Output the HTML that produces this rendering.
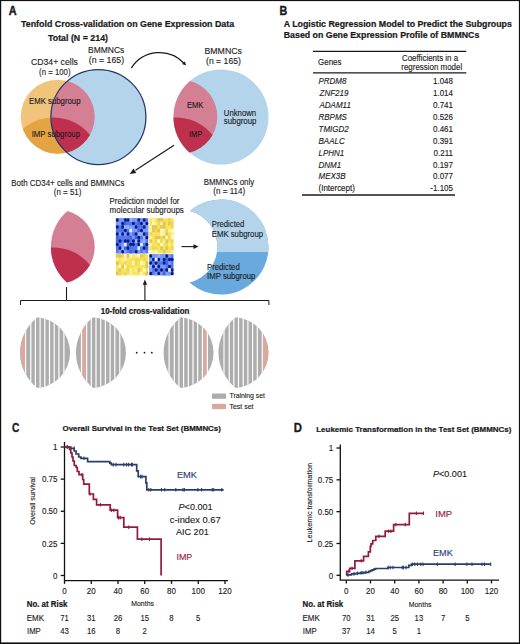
<!DOCTYPE html>
<html><head><meta charset="utf-8"><style>
html,body{margin:0;padding:0;background:#fff;overflow:hidden;}
svg{display:block;font-family:"Liberation Sans",sans-serif;}
</style></head><body>
<svg width="520" height="644" viewBox="0 0 520 644" font-family="Liberation Sans, sans-serif">
<defs>
<clipPath id="cA"><circle cx="57.7" cy="116.7" r="37.0"/></clipPath>
<clipPath id="cD"><circle cx="53.5" cy="164.2" r="46.7"/></clipPath>
<clipPath id="cD2"><circle cx="176.1" cy="164.2" r="46.7"/></clipPath>
<clipPath id="cD3"><circle cx="53.5" cy="294.2" r="46.7"/></clipPath>
<clipPath id="cLens"><path d="M67.41,81.00 A47.5,47.5 0 0 0 66.89,152.54 A37.0,37.0 0 0 0 67.41,81.00Z"/></clipPath>
</defs>
<rect x="0" y="0" width="520" height="644" fill="#fff"/>

<text transform="translate(8.80,15.20) scale(0.8889,1.020)" font-size="12.3" font-weight="bold" stroke="#1a1a1a" stroke-width="0.45" fill="#1a1a1a">A</text>
<text transform="translate(21.00,27.00) scale(0.9980,1.000)" font-size="8.9" font-weight="bold" stroke="#1a1a1a" stroke-width="0.22" fill="#1a1a1a">Tenfold Cross-validation on Gene Expression Data</text>
<text transform="translate(48.00,40.50) scale(0.9952,1.000)" font-size="8.9" font-weight="bold" stroke="#1a1a1a" stroke-width="0.22" fill="#1a1a1a">Total (N = 214)</text>
<circle cx="57.7" cy="116.7" r="37.0" fill="#f1c47c"/>
<g clip-path="url(#cA)"><circle cx="53.5" cy="164.2" r="46.7" fill="#e4a444"/></g>
<circle cx="98.4" cy="117.0" r="47.5" fill="#b4d4ec"/>
<path d="M67.41,81.00 A47.5,47.5 0 0 0 66.89,152.54 A37.0,37.0 0 0 0 67.41,81.00Z" fill="#d47f94"/>
<g clip-path="url(#cD)"><path d="M67.41,81.00 A47.5,47.5 0 0 0 66.89,152.54 A37.0,37.0 0 0 0 67.41,81.00Z" fill="#bf304f"/></g>
<circle cx="98.4" cy="117.0" r="47.5" fill="none" stroke="#1f3966" stroke-width="1.25"/>
<text transform="translate(88.00,53.00) scale(0.9784,1.000)" font-size="8.7" fill="#1a1a1a" stroke="#1a1a1a" stroke-width="0.12">BMMNCs</text>
<text transform="translate(88.75,63.30) scale(1.0108,1.000)" font-size="8.7" fill="#1a1a1a" stroke="#1a1a1a" stroke-width="0.12">(n = 165)</text>
<text transform="translate(31.00,65.00) scale(0.9972,1.000)" font-size="8.7" fill="#1a1a1a" stroke="#1a1a1a" stroke-width="0.12">CD34+ cells</text>
<text transform="translate(39.10,74.60) scale(0.8969,1.000)" font-size="8.7" fill="#1a1a1a" stroke="#1a1a1a" stroke-width="0.12">(n = 100)</text>
<text transform="translate(29.00,103.75) scale(0.9505,1.000)" font-size="8.2" fill="#1a1a1a" stroke="#1a1a1a" stroke-width="0.12">EMK subgroup</text>
<text transform="translate(31.70,137.20) scale(0.9491,1.000)" font-size="8.2" fill="#1a1a1a" stroke="#1a1a1a" stroke-width="0.12">IMP subgroup</text>
<path d="M131.3,68.1 A33.44,33.44 0 0 1 184.2,63.5" fill="none" stroke="#1a1a1a" stroke-width="1.25"/>
<path d="M186.1,65.6 L184.8,61.4 L182.1,63.9 Z" fill="#1a1a1a"/>
<circle cx="221.0" cy="117.0" r="47.5" fill="#b4d4ec"/>
<path d="M190.01,81.00 A47.5,47.5 0 0 0 189.49,152.54 A37.0,37.0 0 0 0 190.01,81.00Z" fill="#d47f94"/>
<g clip-path="url(#cD2)"><path d="M190.01,81.00 A47.5,47.5 0 0 0 189.49,152.54 A37.0,37.0 0 0 0 190.01,81.00Z" fill="#bf304f"/></g>
<text transform="translate(204.50,53.75) scale(1.0049,1.000)" font-size="8.7" fill="#1a1a1a" stroke="#1a1a1a" stroke-width="0.12">BMMNCs</text>
<text transform="translate(206.00,64.00) scale(0.9966,1.000)" font-size="8.7" fill="#1a1a1a" stroke="#1a1a1a" stroke-width="0.12">(n = 165)</text>
<text transform="translate(186.90,107.60) scale(0.9190,1.000)" font-size="8.2" fill="#1a1a1a" stroke="#1a1a1a" stroke-width="0.12">EMK</text>
<text transform="translate(189.00,137.00) scale(0.8943,1.000)" font-size="8.2" fill="#1a1a1a" stroke="#1a1a1a" stroke-width="0.12">IMP</text>
<text transform="translate(223.80,115.90) scale(0.9456,1.000)" font-size="8.2" fill="#1a1a1a" stroke="#1a1a1a" stroke-width="0.12">Unknown</text>
<text transform="translate(223.80,124.40) scale(0.9541,1.000)" font-size="8.2" fill="#1a1a1a" stroke="#1a1a1a" stroke-width="0.12">subgroup</text>
<line x1="174" y1="145.2" x2="135.5" y2="170.3" stroke="#1a1a1a" stroke-width="1.2"/>
<path d="M129.8,174 L136.3,172.9 L133.4,168.4 Z" fill="#1a1a1a"/>
<text transform="translate(11.25,185.50) scale(0.9689,1.000)" font-size="8.2" fill="#1a1a1a" stroke="#1a1a1a" stroke-width="0.12">Both CD34+ cells and BMMNCs</text>
<text transform="translate(53.75,195.00) scale(0.9750,1.000)" font-size="8.2" fill="#1a1a1a" stroke="#1a1a1a" stroke-width="0.12">(n = 51)</text>
<path d="M67.41,211.00 A47.5,47.5 0 0 0 66.89,282.54 A37.0,37.0 0 0 0 67.41,211.00Z" fill="#d47f94"/>
<g clip-path="url(#cD3)"><path d="M67.41,211.00 A47.5,47.5 0 0 0 66.89,282.54 A37.0,37.0 0 0 0 67.41,211.00Z" fill="#bf304f"/></g>
<text transform="translate(109.60,203.80) scale(0.9605,1.000)" font-size="8.2" fill="#1a1a1a" stroke="#1a1a1a" stroke-width="0.12">Prediction model for</text>
<text transform="translate(109.60,212.70) scale(0.9762,1.000)" font-size="8.2" fill="#1a1a1a" stroke="#1a1a1a" stroke-width="0.12">molecular subgroups</text>
<rect x="115.9" y="218.2" width="32.30" height="35.20" fill="#5676ee"/><rect x="118.59" y="218.20" width="2.74" height="3.57" fill="#7d9bf8"/><rect x="121.28" y="218.20" width="2.74" height="3.57" fill="#7d9bf8"/><rect x="129.36" y="218.20" width="2.74" height="3.57" fill="#98b4fc"/><rect x="132.05" y="218.20" width="2.74" height="3.57" fill="#7d9bf8"/><rect x="134.74" y="218.20" width="2.74" height="3.57" fill="#7d9bf8"/><rect x="140.12" y="218.20" width="2.74" height="3.57" fill="#7d9bf8"/><rect x="115.90" y="221.72" width="2.74" height="3.57" fill="#7d9bf8"/><rect x="118.59" y="221.72" width="2.74" height="3.57" fill="#7d9bf8"/><rect x="123.97" y="221.72" width="2.74" height="3.57" fill="#4464e2"/><rect x="137.43" y="221.72" width="2.74" height="3.57" fill="#4464e2"/><rect x="142.82" y="221.72" width="2.74" height="3.57" fill="#7d9bf8"/><rect x="123.97" y="225.24" width="2.74" height="3.57" fill="#98b4fc"/><rect x="126.67" y="225.24" width="2.74" height="3.57" fill="#98b4fc"/><rect x="129.36" y="225.24" width="2.74" height="3.57" fill="#7d9bf8"/><rect x="132.05" y="225.24" width="2.74" height="3.57" fill="#7d9bf8"/><rect x="145.51" y="225.24" width="2.74" height="3.57" fill="#7d9bf8"/><rect x="132.05" y="228.76" width="2.74" height="3.57" fill="#7d9bf8"/><rect x="134.74" y="228.76" width="2.74" height="3.57" fill="#7d9bf8"/><rect x="137.43" y="228.76" width="2.74" height="3.57" fill="#4464e2"/><rect x="142.82" y="228.76" width="2.74" height="3.57" fill="#7d9bf8"/><rect x="145.51" y="228.76" width="2.74" height="3.57" fill="#7d9bf8"/><rect x="118.59" y="232.28" width="2.74" height="3.57" fill="#7d9bf8"/><rect x="123.97" y="232.28" width="2.74" height="3.57" fill="#7d9bf8"/><rect x="129.36" y="232.28" width="2.74" height="3.57" fill="#7d9bf8"/><rect x="137.43" y="232.28" width="2.74" height="3.57" fill="#98b4fc"/><rect x="140.12" y="232.28" width="2.74" height="3.57" fill="#98b4fc"/><rect x="145.51" y="232.28" width="2.74" height="3.57" fill="#4464e2"/><rect x="115.90" y="235.80" width="2.74" height="3.57" fill="#4464e2"/><rect x="129.36" y="235.80" width="2.74" height="3.57" fill="#4464e2"/><rect x="132.05" y="235.80" width="2.74" height="3.57" fill="#7d9bf8"/><rect x="134.74" y="235.80" width="2.74" height="3.57" fill="#4464e2"/><rect x="142.82" y="235.80" width="2.74" height="3.57" fill="#98b4fc"/><rect x="115.90" y="239.32" width="2.74" height="3.57" fill="#4464e2"/><rect x="134.74" y="239.32" width="2.74" height="3.57" fill="#98b4fc"/><rect x="140.12" y="239.32" width="2.74" height="3.57" fill="#7d9bf8"/><rect x="142.82" y="239.32" width="2.74" height="3.57" fill="#98b4fc"/><rect x="121.28" y="242.84" width="2.74" height="3.57" fill="#7d9bf8"/><rect x="126.67" y="242.84" width="2.74" height="3.57" fill="#4464e2"/><rect x="121.28" y="246.36" width="2.74" height="3.57" fill="#98b4fc"/><rect x="123.97" y="246.36" width="2.74" height="3.57" fill="#4464e2"/><rect x="145.51" y="246.36" width="2.74" height="3.57" fill="#4464e2"/><rect x="118.59" y="249.88" width="2.74" height="3.57" fill="#7d9bf8"/><rect x="123.97" y="249.88" width="2.74" height="3.57" fill="#7d9bf8"/><rect x="129.36" y="249.88" width="2.74" height="3.57" fill="#4464e2"/><rect x="137.43" y="249.88" width="2.74" height="3.57" fill="#7d9bf8"/><rect x="142.82" y="249.88" width="2.74" height="3.57" fill="#7d9bf8"/><ellipse cx="117.25" cy="219.96" rx="1.48" ry="1.76" fill="#0a1c80"/><ellipse cx="125.32" cy="219.96" rx="1.48" ry="1.76" fill="#0a1c80"/><ellipse cx="128.01" cy="219.96" rx="1.48" ry="1.76" fill="#0a1c80"/><ellipse cx="138.78" cy="219.96" rx="1.48" ry="1.76" fill="#0a1c80"/><ellipse cx="144.16" cy="219.96" rx="1.48" ry="1.76" fill="#0a1c80"/><ellipse cx="122.63" cy="223.48" rx="1.48" ry="1.76" fill="#0a1c80"/><ellipse cx="133.40" cy="223.48" rx="1.48" ry="1.76" fill="#0a1c80"/><ellipse cx="141.47" cy="223.48" rx="1.48" ry="1.76" fill="#0a1c80"/><ellipse cx="146.85" cy="223.48" rx="1.48" ry="1.76" fill="#0a1c80"/><ellipse cx="117.25" cy="227.00" rx="1.48" ry="1.76" fill="#0a1c80"/><ellipse cx="122.63" cy="227.00" rx="1.48" ry="1.76" fill="#0a1c80"/><ellipse cx="136.09" cy="227.00" rx="1.48" ry="1.76" fill="#0a1c80"/><ellipse cx="144.16" cy="227.00" rx="1.48" ry="1.76" fill="#0a1c80"/><ellipse cx="125.32" cy="230.52" rx="1.48" ry="1.76" fill="#0a1c80"/><ellipse cx="141.47" cy="230.52" rx="1.48" ry="1.76" fill="#0a1c80"/><ellipse cx="117.25" cy="234.04" rx="1.48" ry="1.76" fill="#0a1c80"/><ellipse cx="122.63" cy="234.04" rx="1.48" ry="1.76" fill="#0a1c80"/><ellipse cx="128.01" cy="234.04" rx="1.48" ry="1.76" fill="#0a1c80"/><ellipse cx="136.09" cy="234.04" rx="1.48" ry="1.76" fill="#0a1c80"/><ellipse cx="144.16" cy="234.04" rx="1.48" ry="1.76" fill="#0a1c80"/><ellipse cx="138.78" cy="237.56" rx="1.48" ry="1.76" fill="#0a1c80"/><ellipse cx="146.85" cy="237.56" rx="1.48" ry="1.76" fill="#0a1c80"/><ellipse cx="119.94" cy="241.08" rx="1.48" ry="1.76" fill="#0a1c80"/><ellipse cx="125.32" cy="241.08" rx="1.48" ry="1.76" fill="#0a1c80"/><ellipse cx="128.01" cy="241.08" rx="1.48" ry="1.76" fill="#0a1c80"/><ellipse cx="133.40" cy="241.08" rx="1.48" ry="1.76" fill="#0a1c80"/><ellipse cx="138.78" cy="241.08" rx="1.48" ry="1.76" fill="#0a1c80"/><ellipse cx="117.25" cy="244.60" rx="1.48" ry="1.76" fill="#0a1c80"/><ellipse cx="130.70" cy="244.60" rx="1.48" ry="1.76" fill="#0a1c80"/><ellipse cx="133.40" cy="244.60" rx="1.48" ry="1.76" fill="#0a1c80"/><ellipse cx="138.78" cy="244.60" rx="1.48" ry="1.76" fill="#0a1c80"/><ellipse cx="146.85" cy="244.60" rx="1.48" ry="1.76" fill="#0a1c80"/><ellipse cx="119.94" cy="248.12" rx="1.48" ry="1.76" fill="#0a1c80"/><ellipse cx="128.01" cy="248.12" rx="1.48" ry="1.76" fill="#0a1c80"/><ellipse cx="144.16" cy="248.12" rx="1.48" ry="1.76" fill="#0a1c80"/><ellipse cx="122.63" cy="251.64" rx="1.48" ry="1.76" fill="#0a1c80"/><ellipse cx="136.09" cy="251.64" rx="1.48" ry="1.76" fill="#0a1c80"/><rect x="129.36" y="228.76" width="2.69" height="3.52" fill="#e6f2ff"/><rect x="123.97" y="242.84" width="2.69" height="3.52" fill="#e6f2ff"/><rect x="140.12" y="242.84" width="2.69" height="3.52" fill="#e6f2ff"/><rect x="137.43" y="246.36" width="2.69" height="3.52" fill="#e6f2ff"/>
<rect x="149.4" y="218.2" width="24.10" height="35.20" fill="#f7e35e"/><rect x="152.08" y="218.20" width="2.73" height="3.57" fill="#fbf09a"/><rect x="157.43" y="218.20" width="2.73" height="3.57" fill="#e2c655"/><rect x="160.11" y="218.20" width="2.73" height="3.57" fill="#e2c655"/><rect x="168.14" y="218.20" width="2.73" height="3.57" fill="#f2d74e"/><rect x="152.08" y="221.72" width="2.73" height="3.57" fill="#fdf8c4"/><rect x="154.76" y="221.72" width="2.73" height="3.57" fill="#fbf09a"/><rect x="157.43" y="221.72" width="2.73" height="3.57" fill="#f2d74e"/><rect x="160.11" y="221.72" width="2.73" height="3.57" fill="#fbf09a"/><rect x="162.79" y="221.72" width="2.73" height="3.57" fill="#e2c655"/><rect x="168.14" y="221.72" width="2.73" height="3.57" fill="#e2c655"/><rect x="170.82" y="221.72" width="2.73" height="3.57" fill="#f2d74e"/><rect x="149.40" y="225.24" width="2.73" height="3.57" fill="#fbf09a"/><rect x="152.08" y="225.24" width="2.73" height="3.57" fill="#e2c655"/><rect x="154.76" y="225.24" width="2.73" height="3.57" fill="#e2c655"/><rect x="160.11" y="225.24" width="2.73" height="3.57" fill="#e2c655"/><rect x="162.79" y="225.24" width="2.73" height="3.57" fill="#e2c655"/><rect x="170.82" y="225.24" width="2.73" height="3.57" fill="#f2d74e"/><rect x="149.40" y="228.76" width="2.73" height="3.57" fill="#fbf09a"/><rect x="152.08" y="228.76" width="2.73" height="3.57" fill="#e2c655"/><rect x="154.76" y="228.76" width="2.73" height="3.57" fill="#f2d74e"/><rect x="157.43" y="228.76" width="2.73" height="3.57" fill="#e2c655"/><rect x="160.11" y="228.76" width="2.73" height="3.57" fill="#fdf8c4"/><rect x="162.79" y="228.76" width="2.73" height="3.57" fill="#fbf09a"/><rect x="165.47" y="228.76" width="2.73" height="3.57" fill="#f2d74e"/><rect x="168.14" y="228.76" width="2.73" height="3.57" fill="#fbf09a"/><rect x="170.82" y="228.76" width="2.73" height="3.57" fill="#fdf8c4"/><rect x="149.40" y="232.28" width="2.73" height="3.57" fill="#f2d74e"/><rect x="160.11" y="232.28" width="2.73" height="3.57" fill="#fdf8c4"/><rect x="162.79" y="232.28" width="2.73" height="3.57" fill="#fbf09a"/><rect x="165.47" y="232.28" width="2.73" height="3.57" fill="#e2c655"/><rect x="170.82" y="232.28" width="2.73" height="3.57" fill="#fbf09a"/><rect x="149.40" y="235.80" width="2.73" height="3.57" fill="#fbf09a"/><rect x="154.76" y="235.80" width="2.73" height="3.57" fill="#e2c655"/><rect x="157.43" y="235.80" width="2.73" height="3.57" fill="#e2c655"/><rect x="160.11" y="235.80" width="2.73" height="3.57" fill="#f2d74e"/><rect x="162.79" y="235.80" width="2.73" height="3.57" fill="#e2c655"/><rect x="165.47" y="235.80" width="2.73" height="3.57" fill="#fdf8c4"/><rect x="168.14" y="235.80" width="2.73" height="3.57" fill="#f2d74e"/><rect x="170.82" y="235.80" width="2.73" height="3.57" fill="#fdf8c4"/><rect x="149.40" y="239.32" width="2.73" height="3.57" fill="#e2c655"/><rect x="154.76" y="239.32" width="2.73" height="3.57" fill="#f2d74e"/><rect x="157.43" y="239.32" width="2.73" height="3.57" fill="#fdf8c4"/><rect x="160.11" y="239.32" width="2.73" height="3.57" fill="#f2d74e"/><rect x="162.79" y="239.32" width="2.73" height="3.57" fill="#fbf09a"/><rect x="165.47" y="239.32" width="2.73" height="3.57" fill="#e2c655"/><rect x="170.82" y="239.32" width="2.73" height="3.57" fill="#f2d74e"/><rect x="149.40" y="242.84" width="2.73" height="3.57" fill="#fbf09a"/><rect x="157.43" y="242.84" width="2.73" height="3.57" fill="#f2d74e"/><rect x="160.11" y="242.84" width="2.73" height="3.57" fill="#fdf8c4"/><rect x="165.47" y="242.84" width="2.73" height="3.57" fill="#f2d74e"/><rect x="168.14" y="242.84" width="2.73" height="3.57" fill="#fbf09a"/><rect x="152.08" y="246.36" width="2.73" height="3.57" fill="#f2d74e"/><rect x="154.76" y="246.36" width="2.73" height="3.57" fill="#f2d74e"/><rect x="160.11" y="246.36" width="2.73" height="3.57" fill="#e2c655"/><rect x="165.47" y="246.36" width="2.73" height="3.57" fill="#e2c655"/><rect x="170.82" y="246.36" width="2.73" height="3.57" fill="#f2d74e"/><rect x="149.40" y="249.88" width="2.73" height="3.57" fill="#fdf8c4"/><rect x="152.08" y="249.88" width="2.73" height="3.57" fill="#fbf09a"/><rect x="154.76" y="249.88" width="2.73" height="3.57" fill="#fdf8c4"/><rect x="162.79" y="249.88" width="2.73" height="3.57" fill="#e2c655"/><rect x="170.82" y="249.88" width="2.73" height="3.57" fill="#fbf09a"/>
<rect x="115.9" y="254.2" width="32.30" height="21.10" fill="#f7e35e"/><rect x="115.90" y="254.20" width="2.74" height="3.57" fill="#e2c655"/><rect x="118.59" y="254.20" width="2.74" height="3.57" fill="#e2c655"/><rect x="121.28" y="254.20" width="2.74" height="3.57" fill="#f2d74e"/><rect x="123.97" y="254.20" width="2.74" height="3.57" fill="#fdf8c4"/><rect x="126.67" y="254.20" width="2.74" height="3.57" fill="#e2c655"/><rect x="129.36" y="254.20" width="2.74" height="3.57" fill="#fdf8c4"/><rect x="134.74" y="254.20" width="2.74" height="3.57" fill="#fbf09a"/><rect x="137.43" y="254.20" width="2.74" height="3.57" fill="#fdf8c4"/><rect x="140.12" y="254.20" width="2.74" height="3.57" fill="#e2c655"/><rect x="142.82" y="254.20" width="2.74" height="3.57" fill="#f2d74e"/><rect x="115.90" y="257.72" width="2.74" height="3.57" fill="#fbf09a"/><rect x="121.28" y="257.72" width="2.74" height="3.57" fill="#fbf09a"/><rect x="123.97" y="257.72" width="2.74" height="3.57" fill="#fbf09a"/><rect x="134.74" y="257.72" width="2.74" height="3.57" fill="#f2d74e"/><rect x="137.43" y="257.72" width="2.74" height="3.57" fill="#f2d74e"/><rect x="142.82" y="257.72" width="2.74" height="3.57" fill="#f2d74e"/><rect x="115.90" y="261.23" width="2.74" height="3.57" fill="#e2c655"/><rect x="123.97" y="261.23" width="2.74" height="3.57" fill="#f2d74e"/><rect x="132.05" y="261.23" width="2.74" height="3.57" fill="#fdf8c4"/><rect x="134.74" y="261.23" width="2.74" height="3.57" fill="#f2d74e"/><rect x="140.12" y="261.23" width="2.74" height="3.57" fill="#fdf8c4"/><rect x="142.82" y="261.23" width="2.74" height="3.57" fill="#fbf09a"/><rect x="145.51" y="261.23" width="2.74" height="3.57" fill="#e2c655"/><rect x="118.59" y="264.75" width="2.74" height="3.57" fill="#fdf8c4"/><rect x="121.28" y="264.75" width="2.74" height="3.57" fill="#e2c655"/><rect x="123.97" y="264.75" width="2.74" height="3.57" fill="#fdf8c4"/><rect x="126.67" y="264.75" width="2.74" height="3.57" fill="#f2d74e"/><rect x="145.51" y="264.75" width="2.74" height="3.57" fill="#e2c655"/><rect x="118.59" y="268.27" width="2.74" height="3.57" fill="#e2c655"/><rect x="126.67" y="268.27" width="2.74" height="3.57" fill="#f2d74e"/><rect x="129.36" y="268.27" width="2.74" height="3.57" fill="#fbf09a"/><rect x="134.74" y="268.27" width="2.74" height="3.57" fill="#fbf09a"/><rect x="137.43" y="268.27" width="2.74" height="3.57" fill="#e2c655"/><rect x="142.82" y="268.27" width="2.74" height="3.57" fill="#fdf8c4"/><rect x="115.90" y="271.78" width="2.74" height="3.57" fill="#e2c655"/><rect x="118.59" y="271.78" width="2.74" height="3.57" fill="#f2d74e"/><rect x="123.97" y="271.78" width="2.74" height="3.57" fill="#f2d74e"/><rect x="129.36" y="271.78" width="2.74" height="3.57" fill="#fbf09a"/><rect x="140.12" y="271.78" width="2.74" height="3.57" fill="#fdf8c4"/><rect x="145.51" y="271.78" width="2.74" height="3.57" fill="#e2c655"/>
<rect x="149.4" y="254.2" width="24.10" height="21.10" fill="#5676ee"/><rect x="152.08" y="254.20" width="2.73" height="3.57" fill="#7d9bf8"/><rect x="154.76" y="254.20" width="2.73" height="3.57" fill="#7d9bf8"/><rect x="157.43" y="254.20" width="2.73" height="3.57" fill="#98b4fc"/><rect x="160.11" y="254.20" width="2.73" height="3.57" fill="#7d9bf8"/><rect x="162.79" y="254.20" width="2.73" height="3.57" fill="#7d9bf8"/><rect x="168.14" y="254.20" width="2.73" height="3.57" fill="#7d9bf8"/><rect x="149.40" y="257.72" width="2.73" height="3.57" fill="#7d9bf8"/><rect x="160.11" y="257.72" width="2.73" height="3.57" fill="#7d9bf8"/><rect x="165.47" y="257.72" width="2.73" height="3.57" fill="#4464e2"/><rect x="165.47" y="261.23" width="2.73" height="3.57" fill="#4464e2"/><rect x="168.14" y="261.23" width="2.73" height="3.57" fill="#7d9bf8"/><rect x="149.40" y="264.75" width="2.73" height="3.57" fill="#98b4fc"/><rect x="154.76" y="264.75" width="2.73" height="3.57" fill="#98b4fc"/><rect x="160.11" y="264.75" width="2.73" height="3.57" fill="#7d9bf8"/><rect x="162.79" y="264.75" width="2.73" height="3.57" fill="#7d9bf8"/><rect x="149.40" y="268.27" width="2.73" height="3.57" fill="#7d9bf8"/><rect x="154.76" y="271.78" width="2.73" height="3.57" fill="#7d9bf8"/><rect x="160.11" y="271.78" width="2.73" height="3.57" fill="#7d9bf8"/><rect x="162.79" y="271.78" width="2.73" height="3.57" fill="#4464e2"/><rect x="165.47" y="271.78" width="2.73" height="3.57" fill="#7d9bf8"/><rect x="168.14" y="271.78" width="2.73" height="3.57" fill="#7d9bf8"/><ellipse cx="150.74" cy="255.96" rx="1.47" ry="1.76" fill="#0a1c80"/><ellipse cx="166.81" cy="255.96" rx="1.47" ry="1.76" fill="#0a1c80"/><ellipse cx="153.42" cy="259.48" rx="1.47" ry="1.76" fill="#0a1c80"/><ellipse cx="158.77" cy="259.48" rx="1.47" ry="1.76" fill="#0a1c80"/><ellipse cx="164.13" cy="259.48" rx="1.47" ry="1.76" fill="#0a1c80"/><ellipse cx="169.48" cy="259.48" rx="1.47" ry="1.76" fill="#0a1c80"/><ellipse cx="172.16" cy="259.48" rx="1.47" ry="1.76" fill="#0a1c80"/><ellipse cx="150.74" cy="262.99" rx="1.47" ry="1.76" fill="#0a1c80"/><ellipse cx="156.09" cy="262.99" rx="1.47" ry="1.76" fill="#0a1c80"/><ellipse cx="164.13" cy="262.99" rx="1.47" ry="1.76" fill="#0a1c80"/><ellipse cx="153.42" cy="266.51" rx="1.47" ry="1.76" fill="#0a1c80"/><ellipse cx="158.77" cy="266.51" rx="1.47" ry="1.76" fill="#0a1c80"/><ellipse cx="169.48" cy="266.51" rx="1.47" ry="1.76" fill="#0a1c80"/><ellipse cx="156.09" cy="270.02" rx="1.47" ry="1.76" fill="#0a1c80"/><ellipse cx="161.45" cy="270.02" rx="1.47" ry="1.76" fill="#0a1c80"/><ellipse cx="166.81" cy="270.02" rx="1.47" ry="1.76" fill="#0a1c80"/><ellipse cx="172.16" cy="270.02" rx="1.47" ry="1.76" fill="#0a1c80"/><ellipse cx="150.74" cy="273.54" rx="1.47" ry="1.76" fill="#0a1c80"/><ellipse cx="158.77" cy="273.54" rx="1.47" ry="1.76" fill="#0a1c80"/><ellipse cx="172.16" cy="273.54" rx="1.47" ry="1.76" fill="#0a1c80"/><rect x="154.76" y="257.72" width="2.68" height="3.52" fill="#e6f2ff"/><rect x="168.14" y="268.27" width="2.68" height="3.52" fill="#e6f2ff"/>
<line x1="181.5" y1="246.6" x2="195" y2="246.6" stroke="#1a1a1a" stroke-width="1.1"/>
<path d="M198.5,246.6 L193.5,244.2 L193.5,249 Z" fill="#1a1a1a"/>
<clipPath id="cTop"><rect x="150" y="190" width="130" height="62"/></clipPath>
<path d="M190.01,211.00 A47.5,47.5 0 1 1 189.49,282.54 A37.0,37.0 0 0 0 190.01,211.00Z" fill="#6aa9de"/>
<g clip-path="url(#cTop)"><path d="M190.01,211.00 A47.5,47.5 0 1 1 189.49,282.54 A37.0,37.0 0 0 0 190.01,211.00Z" fill="#b4d4ec"/></g>
<text transform="translate(203.75,185.00) scale(0.9630,1.000)" font-size="8.2" fill="#1a1a1a" stroke="#1a1a1a" stroke-width="0.12">BMMNCs only</text>
<text transform="translate(213.25,193.80) scale(0.9874,1.000)" font-size="8.2" fill="#1a1a1a" stroke="#1a1a1a" stroke-width="0.12">(n = 114)</text>
<text transform="translate(211.80,227.40) scale(0.9419,1.000)" font-size="8.2" fill="#1a1a1a" stroke="#1a1a1a" stroke-width="0.12">Predicted</text>
<text transform="translate(211.80,237.20) scale(0.9468,1.000)" font-size="8.2" fill="#1a1a1a" stroke="#1a1a1a" stroke-width="0.12">EMK subgroup</text>
<text transform="translate(207.00,269.50) scale(0.9448,1.000)" font-size="8.2" fill="#1a1a1a" stroke="#1a1a1a" stroke-width="0.12">Predicted</text>
<text transform="translate(207.00,278.90) scale(0.9510,1.000)" font-size="8.2" fill="#1a1a1a" stroke="#1a1a1a" stroke-width="0.12">IMP subgroup</text>
<line x1="66.5" y1="287" x2="66.5" y2="300.5" stroke="#1a1a1a" stroke-width="1.1"/>
<line x1="144.9" y1="300.5" x2="144.9" y2="284" stroke="#1a1a1a" stroke-width="1.1"/>
<path d="M144.9,279.6 L142.7,284.8 L147.1,284.8 Z" fill="#1a1a1a"/>
<path d="M20.5,305 L20.5,300.5 L268.9,300.5 L268.9,305" fill="none" stroke="#1a1a1a" stroke-width="1"/>
<text transform="translate(100.75,314.30) scale(0.9871,1.050)" font-size="8" font-weight="bold" stroke="#1a1a1a" stroke-width="0.22" fill="#1a1a1a">10-fold cross-validation</text>
<clipPath id="sl20"><path d="M37.48,317.22 A44.7,44.7 0 0 0 37.48,387.98 A35.5,35.5 0 0 0 37.48,317.22Z"/></clipPath><path d="M37.48,317.22 A44.7,44.7 0 0 0 37.48,387.98 A35.5,35.5 0 0 0 37.48,317.22Z" fill="#adadad"/><g clip-path="url(#sl20)"><rect x="20.10" y="300" width="5.50" height="100" fill="#d8aa9f"/><rect x="25.00" y="300" width="1.2" height="100" fill="#fff"/><rect x="30.20" y="300" width="1.2" height="100" fill="#fff"/><rect x="34.80" y="300" width="1.2" height="100" fill="#fff"/><rect x="39.50" y="300" width="1.2" height="100" fill="#fff"/><rect x="44.20" y="300" width="1.2" height="100" fill="#fff"/><rect x="48.90" y="300" width="1.2" height="100" fill="#fff"/><rect x="53.60" y="300" width="1.2" height="100" fill="#fff"/><rect x="58.30" y="300" width="1.2" height="100" fill="#fff"/><rect x="63.30" y="300" width="1.2" height="100" fill="#fff"/></g>
<clipPath id="sl76"><path d="M93.38,317.22 A44.7,44.7 0 0 0 93.38,387.98 A35.5,35.5 0 0 0 93.38,317.22Z"/></clipPath><path d="M93.38,317.22 A44.7,44.7 0 0 0 93.38,387.98 A35.5,35.5 0 0 0 93.38,317.22Z" fill="#adadad"/><g clip-path="url(#sl76)"><rect x="81.50" y="300" width="5.20" height="100" fill="#d8aa9f"/><rect x="80.90" y="300" width="1.2" height="100" fill="#fff"/><rect x="86.10" y="300" width="1.2" height="100" fill="#fff"/><rect x="90.70" y="300" width="1.2" height="100" fill="#fff"/><rect x="95.40" y="300" width="1.2" height="100" fill="#fff"/><rect x="100.10" y="300" width="1.2" height="100" fill="#fff"/><rect x="104.80" y="300" width="1.2" height="100" fill="#fff"/><rect x="109.50" y="300" width="1.2" height="100" fill="#fff"/><rect x="114.20" y="300" width="1.2" height="100" fill="#fff"/><rect x="119.20" y="300" width="1.2" height="100" fill="#fff"/></g>
<clipPath id="sl163"><path d="M180.98,317.22 A44.7,44.7 0 0 0 180.98,387.98 A35.5,35.5 0 0 0 180.98,317.22Z"/></clipPath><path d="M180.98,317.22 A44.7,44.7 0 0 0 180.98,387.98 A35.5,35.5 0 0 0 180.98,317.22Z" fill="#adadad"/><g clip-path="url(#sl163)"><rect x="202.40" y="300" width="5.00" height="100" fill="#d8aa9f"/><rect x="168.50" y="300" width="1.2" height="100" fill="#fff"/><rect x="173.70" y="300" width="1.2" height="100" fill="#fff"/><rect x="178.30" y="300" width="1.2" height="100" fill="#fff"/><rect x="183.00" y="300" width="1.2" height="100" fill="#fff"/><rect x="187.70" y="300" width="1.2" height="100" fill="#fff"/><rect x="192.40" y="300" width="1.2" height="100" fill="#fff"/><rect x="197.10" y="300" width="1.2" height="100" fill="#fff"/><rect x="201.80" y="300" width="1.2" height="100" fill="#fff"/><rect x="206.80" y="300" width="1.2" height="100" fill="#fff"/></g>
<clipPath id="sl218"><path d="M235.88,317.22 A44.7,44.7 0 0 0 235.88,387.98 A35.5,35.5 0 0 0 235.88,317.22Z"/></clipPath><path d="M235.88,317.22 A44.7,44.7 0 0 0 235.88,387.98 A35.5,35.5 0 0 0 235.88,317.22Z" fill="#adadad"/><g clip-path="url(#sl218)"><rect x="262.30" y="300" width="16.20" height="100" fill="#d8aa9f"/><rect x="223.40" y="300" width="1.2" height="100" fill="#fff"/><rect x="228.60" y="300" width="1.2" height="100" fill="#fff"/><rect x="233.20" y="300" width="1.2" height="100" fill="#fff"/><rect x="237.90" y="300" width="1.2" height="100" fill="#fff"/><rect x="242.60" y="300" width="1.2" height="100" fill="#fff"/><rect x="247.30" y="300" width="1.2" height="100" fill="#fff"/><rect x="252.00" y="300" width="1.2" height="100" fill="#fff"/><rect x="256.70" y="300" width="1.2" height="100" fill="#fff"/><rect x="261.70" y="300" width="1.2" height="100" fill="#fff"/></g>
<circle cx="136.7" cy="352.7" r="0.9" fill="#1a1a1a"/>
<circle cx="144.5" cy="352.7" r="0.9" fill="#1a1a1a"/>
<circle cx="151.8" cy="352.7" r="0.9" fill="#1a1a1a"/>
<rect x="212" y="393.5" width="14" height="5.3" fill="#adadad"/>
<rect x="212" y="403.9" width="14" height="5.3" fill="#d8aa9f"/>
<text transform="translate(229.50,398.00) scale(0.9761,1.000)" font-size="7" fill="#1a1a1a" stroke="#1a1a1a" stroke-width="0.12">Training set</text>
<text transform="translate(229.50,409.00) scale(0.9969,1.000)" font-size="7" fill="#1a1a1a" stroke="#1a1a1a" stroke-width="0.12">Test set</text>
<text transform="translate(279.60,15.30) scale(0.8667,1.020)" font-size="12.3" font-weight="bold" stroke="#1a1a1a" stroke-width="0.45" fill="#1a1a1a">B</text>
<text transform="translate(283.75,27.00) scale(1.0017,1.000)" font-size="8.8" font-weight="bold" stroke="#1a1a1a" stroke-width="0.22" fill="#1a1a1a">A Logistic Regression Model to Predict the Subgroups</text>
<text transform="translate(283.75,37.50) scale(1.0006,1.000)" font-size="8.8" font-weight="bold" stroke="#1a1a1a" stroke-width="0.22" fill="#1a1a1a">Based on Gene Expression Profile of BMMNCs</text>
<line x1="313" y1="51.4" x2="466.3" y2="51.4" stroke="#1a1a1a" stroke-width="1.2"/>
<line x1="313" y1="72.9" x2="466.3" y2="72.9" stroke="#1a1a1a" stroke-width="1.2"/>
<line x1="302" y1="195" x2="455" y2="195" stroke="#1a1a1a" stroke-width="1.4"/>
<text transform="translate(318.00,64.60) scale(1.0000,1.080)" font-size="8" fill="#1a1a1a" stroke="#1a1a1a" stroke-width="0.12">Genes</text>
<text transform="translate(402.00,60.90) scale(0.9900,1.080)" font-size="8" fill="#1a1a1a" stroke="#1a1a1a" stroke-width="0.12">Coefficients in a</text>
<text transform="translate(401.25,70.20) scale(0.9945,1.080)" font-size="8" fill="#1a1a1a" stroke="#1a1a1a" stroke-width="0.12">regression model</text>
<text transform="translate(318.50,84.00) scale(1.0000,1.070)" font-size="8" font-style="italic" fill="#1a1a1a" stroke="#1a1a1a" stroke-width="0.12">PRDM8</text>
<text transform="translate(453.00,84.00) scale(1.0000,1.070)" font-size="8" text-anchor="end" fill="#1a1a1a" stroke="#1a1a1a" stroke-width="0.12">1.048</text>
<text transform="translate(319.50,95.93) scale(1.0000,1.070)" font-size="8" font-style="italic" fill="#1a1a1a" stroke="#1a1a1a" stroke-width="0.12">ZNF219</text>
<text transform="translate(453.00,95.93) scale(1.0000,1.070)" font-size="8" text-anchor="end" fill="#1a1a1a" stroke="#1a1a1a" stroke-width="0.12">1.014</text>
<text transform="translate(319.50,107.86) scale(1.0000,1.070)" font-size="8" font-style="italic" fill="#1a1a1a" stroke="#1a1a1a" stroke-width="0.12">ADAM11</text>
<text transform="translate(453.00,107.86) scale(1.0000,1.070)" font-size="8" text-anchor="end" fill="#1a1a1a" stroke="#1a1a1a" stroke-width="0.12">0.741</text>
<text transform="translate(318.50,119.79) scale(1.0000,1.070)" font-size="8" font-style="italic" fill="#1a1a1a" stroke="#1a1a1a" stroke-width="0.12">RBPMS</text>
<text transform="translate(453.00,119.79) scale(1.0000,1.070)" font-size="8" text-anchor="end" fill="#1a1a1a" stroke="#1a1a1a" stroke-width="0.12">0.526</text>
<text transform="translate(318.50,131.72) scale(1.0000,1.070)" font-size="8" font-style="italic" fill="#1a1a1a" stroke="#1a1a1a" stroke-width="0.12">TMIGD2</text>
<text transform="translate(453.00,131.72) scale(1.0000,1.070)" font-size="8" text-anchor="end" fill="#1a1a1a" stroke="#1a1a1a" stroke-width="0.12">0.461</text>
<text transform="translate(318.50,143.65) scale(1.0000,1.070)" font-size="8" font-style="italic" fill="#1a1a1a" stroke="#1a1a1a" stroke-width="0.12">BAALC</text>
<text transform="translate(453.00,143.65) scale(1.0000,1.070)" font-size="8" text-anchor="end" fill="#1a1a1a" stroke="#1a1a1a" stroke-width="0.12">0.391</text>
<text transform="translate(318.50,155.58) scale(1.0000,1.070)" font-size="8" font-style="italic" fill="#1a1a1a" stroke="#1a1a1a" stroke-width="0.12">LPHN1</text>
<text transform="translate(453.00,155.58) scale(1.0000,1.070)" font-size="8" text-anchor="end" fill="#1a1a1a" stroke="#1a1a1a" stroke-width="0.12">0.211</text>
<text transform="translate(318.50,167.51) scale(1.0000,1.070)" font-size="8" font-style="italic" fill="#1a1a1a" stroke="#1a1a1a" stroke-width="0.12">DNM1</text>
<text transform="translate(453.00,167.51) scale(1.0000,1.070)" font-size="8" text-anchor="end" fill="#1a1a1a" stroke="#1a1a1a" stroke-width="0.12">0.197</text>
<text transform="translate(318.50,179.44) scale(1.0000,1.070)" font-size="8" font-style="italic" fill="#1a1a1a" stroke="#1a1a1a" stroke-width="0.12">MEX3B</text>
<text transform="translate(453.00,179.44) scale(1.0000,1.070)" font-size="8" text-anchor="end" fill="#1a1a1a" stroke="#1a1a1a" stroke-width="0.12">0.077</text>
<text transform="translate(318.50,191.37) scale(1.0000,1.070)" font-size="8" fill="#1a1a1a" stroke="#1a1a1a" stroke-width="0.12">(Intercept)</text>
<text transform="translate(453.00,191.37) scale(1.0000,1.070)" font-size="8" text-anchor="end" fill="#1a1a1a" stroke="#1a1a1a" stroke-width="0.12">-1.105</text>
<text transform="translate(12.10,432.10) scale(0.7900,1.000)" font-size="13" font-weight="bold" stroke="#1a1a1a" stroke-width="0.3" fill="#1a1a1a">C</text>
<text transform="translate(62.50,431.25) scale(0.9951,1.000)" font-size="8" font-weight="bold" stroke="#1a1a1a" stroke-width="0.22" fill="#1a1a1a">Overall Survival in the Test Set (BMMNCs)</text>
<text transform="translate(57.50,578.70) scale(1.0000,1.170)" font-size="8" text-anchor="end" fill="#1a1a1a" stroke="#1a1a1a" stroke-width="0.12">0</text>
<text transform="translate(57.50,546.58) scale(1.0000,1.170)" font-size="8" text-anchor="end" fill="#1a1a1a" stroke="#1a1a1a" stroke-width="0.12">0.25</text>
<text transform="translate(57.50,514.45) scale(1.0000,1.170)" font-size="8" text-anchor="end" fill="#1a1a1a" stroke="#1a1a1a" stroke-width="0.12">0.50</text>
<text transform="translate(57.50,482.32) scale(1.0000,1.170)" font-size="8" text-anchor="end" fill="#1a1a1a" stroke="#1a1a1a" stroke-width="0.12">0.75</text>
<text transform="translate(57.50,450.20) scale(1.0000,1.170)" font-size="8" text-anchor="end" fill="#1a1a1a" stroke="#1a1a1a" stroke-width="0.12">1</text>
<text transform="translate(64.50,594.20) scale(1.0000,1.170)" font-size="8" text-anchor="middle" fill="#1a1a1a" stroke="#1a1a1a" stroke-width="0.12">0</text>
<text transform="translate(91.25,594.20) scale(1.0000,1.170)" font-size="8" text-anchor="middle" fill="#1a1a1a" stroke="#1a1a1a" stroke-width="0.12">20</text>
<text transform="translate(118.00,594.20) scale(1.0000,1.170)" font-size="8" text-anchor="middle" fill="#1a1a1a" stroke="#1a1a1a" stroke-width="0.12">40</text>
<text transform="translate(144.75,594.20) scale(1.0000,1.170)" font-size="8" text-anchor="middle" fill="#1a1a1a" stroke="#1a1a1a" stroke-width="0.12">60</text>
<text transform="translate(171.50,594.20) scale(1.0000,1.170)" font-size="8" text-anchor="middle" fill="#1a1a1a" stroke="#1a1a1a" stroke-width="0.12">80</text>
<text transform="translate(198.25,594.20) scale(1.0000,1.170)" font-size="8" text-anchor="middle" fill="#1a1a1a" stroke="#1a1a1a" stroke-width="0.12">100</text>
<text transform="translate(225.00,594.20) scale(1.0000,1.170)" font-size="8" text-anchor="middle" fill="#1a1a1a" stroke="#1a1a1a" stroke-width="0.12">120</text>
<text transform="translate(35.30,501.00) rotate(-90) scale(1.0000,1.100)" font-size="7" text-anchor="middle" fill="#1a1a1a" stroke="#1a1a1a" stroke-width="0.12">Overall survival</text>
<path d="M64.5,442 L64.5,580.7 L228,580.7" fill="none" stroke="#111" stroke-width="1.3"/><line x1="60.7" y1="575.50" x2="64.5" y2="575.50" stroke="#111" stroke-width="1.3"/><line x1="60.7" y1="543.38" x2="64.5" y2="543.38" stroke="#111" stroke-width="1.3"/><line x1="60.7" y1="511.25" x2="64.5" y2="511.25" stroke="#111" stroke-width="1.3"/><line x1="60.7" y1="479.12" x2="64.5" y2="479.12" stroke="#111" stroke-width="1.3"/><line x1="60.7" y1="447.00" x2="64.5" y2="447.00" stroke="#111" stroke-width="1.3"/><line x1="64.50" y1="580.7" x2="64.50" y2="583.9000000000001" stroke="#111" stroke-width="1.3"/><line x1="91.25" y1="580.7" x2="91.25" y2="583.9000000000001" stroke="#111" stroke-width="1.3"/><line x1="118.00" y1="580.7" x2="118.00" y2="583.9000000000001" stroke="#111" stroke-width="1.3"/><line x1="144.75" y1="580.7" x2="144.75" y2="583.9000000000001" stroke="#111" stroke-width="1.3"/><line x1="171.50" y1="580.7" x2="171.50" y2="583.9000000000001" stroke="#111" stroke-width="1.3"/><line x1="198.25" y1="580.7" x2="198.25" y2="583.9000000000001" stroke="#111" stroke-width="1.3"/><line x1="225.00" y1="580.7" x2="225.00" y2="583.9000000000001" stroke="#111" stroke-width="1.3"/>
<path d="M64.60,447.00 L70.80,447.00 L70.80,448.30 L74.20,448.30 L74.20,451.00 L76.10,451.00 L76.10,454.00 L78.70,454.00 L78.70,457.00 L81.00,457.00 L81.00,458.30 L87.60,458.30 L87.60,461.60 L109.80,461.60 L109.80,463.20 L111.20,463.20 L111.20,464.60 L136.70,464.60 L136.70,470.90 L138.20,470.90 L138.20,476.60 L145.90,476.60 L145.90,482.90 L146.80,482.90 L146.80,489.80 L223.70,489.80" fill="none" stroke="#283f69" stroke-width="1.7"/>
<line x1="67.50" y1="445.20" x2="67.50" y2="448.80" stroke="#283f69" stroke-width="1.1"/><line x1="74.20" y1="446.50" x2="74.20" y2="450.10" stroke="#283f69" stroke-width="1.1"/><line x1="84.00" y1="456.50" x2="84.00" y2="460.10" stroke="#283f69" stroke-width="1.1"/><line x1="113.20" y1="462.80" x2="113.20" y2="466.40" stroke="#283f69" stroke-width="1.1"/><line x1="116.00" y1="462.80" x2="116.00" y2="466.40" stroke="#283f69" stroke-width="1.1"/><line x1="123.75" y1="462.80" x2="123.75" y2="466.40" stroke="#283f69" stroke-width="1.1"/><line x1="126.60" y1="462.80" x2="126.60" y2="466.40" stroke="#283f69" stroke-width="1.1"/><line x1="128.60" y1="462.80" x2="128.60" y2="466.40" stroke="#283f69" stroke-width="1.1"/><line x1="131.40" y1="462.80" x2="131.40" y2="466.40" stroke="#283f69" stroke-width="1.1"/><line x1="132.40" y1="462.80" x2="132.40" y2="466.40" stroke="#283f69" stroke-width="1.1"/><line x1="140.60" y1="474.80" x2="140.60" y2="478.40" stroke="#283f69" stroke-width="1.1"/><line x1="142.00" y1="474.80" x2="142.00" y2="478.40" stroke="#283f69" stroke-width="1.1"/><line x1="148.75" y1="488.00" x2="148.75" y2="491.60" stroke="#283f69" stroke-width="1.1"/><line x1="150.80" y1="488.00" x2="150.80" y2="491.60" stroke="#283f69" stroke-width="1.1"/><line x1="161.50" y1="488.00" x2="161.50" y2="491.60" stroke="#283f69" stroke-width="1.1"/><line x1="164.70" y1="488.00" x2="164.70" y2="491.60" stroke="#283f69" stroke-width="1.1"/><line x1="175.80" y1="488.00" x2="175.80" y2="491.60" stroke="#283f69" stroke-width="1.1"/><line x1="183.00" y1="488.00" x2="183.00" y2="491.60" stroke="#283f69" stroke-width="1.1"/><line x1="184.40" y1="488.00" x2="184.40" y2="491.60" stroke="#283f69" stroke-width="1.1"/><line x1="197.80" y1="488.00" x2="197.80" y2="491.60" stroke="#283f69" stroke-width="1.1"/><line x1="201.60" y1="488.00" x2="201.60" y2="491.60" stroke="#283f69" stroke-width="1.1"/><line x1="212.20" y1="488.00" x2="212.20" y2="491.60" stroke="#283f69" stroke-width="1.1"/><line x1="213.70" y1="488.00" x2="213.70" y2="491.60" stroke="#283f69" stroke-width="1.1"/><line x1="221.80" y1="488.00" x2="221.80" y2="491.60" stroke="#283f69" stroke-width="1.1"/>
<path d="M64.60,447.00 L69.50,447.00 L69.50,449.50 L70.80,449.50 L70.80,453.00 L72.00,453.00 L72.00,457.00 L73.00,457.00 L73.00,461.00 L74.30,461.00 L74.30,465.50 L76.20,465.50 L76.20,467.50 L77.30,467.50 L77.30,471.50 L79.00,471.50 L79.00,474.70 L82.70,474.70 L82.70,479.50 L83.70,479.50 L83.70,484.20 L89.30,484.20 L89.30,494.00 L93.40,494.00 L93.40,499.30 L96.60,499.30 L96.60,504.80 L110.20,504.80 L110.20,510.20 L117.60,510.20 L117.60,517.60 L123.80,517.60 L123.80,527.20 L137.40,527.20 L137.40,539.20 L161.10,539.20 L161.10,575.50" fill="none" stroke="#931a3c" stroke-width="1.7"/>
<line x1="67.00" y1="445.20" x2="67.00" y2="448.80" stroke="#931a3c" stroke-width="1.1"/><line x1="82.00" y1="472.90" x2="82.00" y2="476.50" stroke="#931a3c" stroke-width="1.1"/><line x1="90.00" y1="492.20" x2="90.00" y2="495.80" stroke="#931a3c" stroke-width="1.1"/><line x1="100.40" y1="503.00" x2="100.40" y2="506.60" stroke="#931a3c" stroke-width="1.1"/><line x1="111.30" y1="508.40" x2="111.30" y2="512.00" stroke="#931a3c" stroke-width="1.1"/><line x1="113.80" y1="508.40" x2="113.80" y2="512.00" stroke="#931a3c" stroke-width="1.1"/><line x1="118.60" y1="515.80" x2="118.60" y2="519.40" stroke="#931a3c" stroke-width="1.1"/><line x1="120.20" y1="515.80" x2="120.20" y2="519.40" stroke="#931a3c" stroke-width="1.1"/><line x1="128.70" y1="525.40" x2="128.70" y2="529.00" stroke="#931a3c" stroke-width="1.1"/><line x1="141.90" y1="537.40" x2="141.90" y2="541.00" stroke="#931a3c" stroke-width="1.1"/><line x1="149.40" y1="537.40" x2="149.40" y2="541.00" stroke="#931a3c" stroke-width="1.1"/>
<text transform="translate(176.90,478.00) scale(1.0359,1.000)" font-size="9" fill="#283f69" stroke="#283f69" stroke-width="0.12">EMK</text>
<text transform="translate(178.50,509.60) scale(1.0126,1.000)" font-size="9" fill="#1a1a1a" stroke="#1a1a1a" stroke-width="0.12"><tspan font-style="italic">P</tspan>&lt;0.001</text>
<text transform="translate(169.80,522.80) scale(1.0403,1.000)" font-size="9" fill="#1a1a1a" stroke="#1a1a1a" stroke-width="0.12">c-index 0.67</text>
<text transform="translate(176.00,534.80) scale(1.0088,1.000)" font-size="9" fill="#1a1a1a" stroke="#1a1a1a" stroke-width="0.12">AIC 201</text>
<text transform="translate(176.50,560.40) scale(0.9877,1.000)" font-size="9" fill="#931a3c" stroke="#931a3c" stroke-width="0.12">IMP</text>
<text transform="translate(131.25,606.40) scale(0.9913,1.150)" font-size="7" fill="#1a1a1a" stroke="#1a1a1a" stroke-width="0.12">Months</text>
<text transform="translate(26.75,607.20) scale(0.9846,1.070)" font-size="8" font-weight="bold" stroke="#1a1a1a" stroke-width="0.22" fill="#1a1a1a">No. at Risk</text>
<text transform="translate(26.75,620.60) scale(0.9091,1.000)" font-size="8.8" fill="#1a1a1a" stroke="#1a1a1a" stroke-width="0.12">EMK</text>
<text transform="translate(27.00,634.20) scale(0.8750,1.000)" font-size="8.8" fill="#1a1a1a" stroke="#1a1a1a" stroke-width="0.12">IMP</text>
<text transform="translate(64.50,620.60) scale(0.8800,1.000)" font-size="8.8" text-anchor="middle" fill="#1a1a1a" stroke="#1a1a1a" stroke-width="0.12">71</text>
<text transform="translate(91.25,620.60) scale(0.8800,1.000)" font-size="8.8" text-anchor="middle" fill="#1a1a1a" stroke="#1a1a1a" stroke-width="0.12">31</text>
<text transform="translate(118.00,620.60) scale(0.8800,1.000)" font-size="8.8" text-anchor="middle" fill="#1a1a1a" stroke="#1a1a1a" stroke-width="0.12">26</text>
<text transform="translate(144.75,620.60) scale(0.8800,1.000)" font-size="8.8" text-anchor="middle" fill="#1a1a1a" stroke="#1a1a1a" stroke-width="0.12">15</text>
<text transform="translate(171.50,620.60) scale(0.8800,1.000)" font-size="8.8" text-anchor="middle" fill="#1a1a1a" stroke="#1a1a1a" stroke-width="0.12">8</text>
<text transform="translate(198.25,620.60) scale(0.8800,1.000)" font-size="8.8" text-anchor="middle" fill="#1a1a1a" stroke="#1a1a1a" stroke-width="0.12">5</text>
<text transform="translate(64.50,634.20) scale(0.8800,1.000)" font-size="8.8" text-anchor="middle" fill="#1a1a1a" stroke="#1a1a1a" stroke-width="0.12">43</text>
<text transform="translate(91.25,634.20) scale(0.8800,1.000)" font-size="8.8" text-anchor="middle" fill="#1a1a1a" stroke="#1a1a1a" stroke-width="0.12">16</text>
<text transform="translate(118.00,634.20) scale(0.8800,1.000)" font-size="8.8" text-anchor="middle" fill="#1a1a1a" stroke="#1a1a1a" stroke-width="0.12">8</text>
<text transform="translate(144.75,634.20) scale(0.8800,1.000)" font-size="8.8" text-anchor="middle" fill="#1a1a1a" stroke="#1a1a1a" stroke-width="0.12">2</text>
<text transform="translate(293.80,431.80) scale(0.9111,1.000)" font-size="12.5" font-weight="bold" stroke="#1a1a1a" stroke-width="0.3" fill="#1a1a1a">D</text>
<text transform="translate(316.25,431.75) scale(0.9954,1.000)" font-size="8" font-weight="bold" stroke="#1a1a1a" stroke-width="0.22" fill="#1a1a1a">Leukemic Transformation in the Test Set (BMMNCs)</text>
<text transform="translate(333.30,578.50) scale(1.0000,1.170)" font-size="8" text-anchor="end" fill="#1a1a1a" stroke="#1a1a1a" stroke-width="0.12">0</text>
<text transform="translate(333.30,546.68) scale(1.0000,1.170)" font-size="8" text-anchor="end" fill="#1a1a1a" stroke="#1a1a1a" stroke-width="0.12">0.25</text>
<text transform="translate(333.30,514.85) scale(1.0000,1.170)" font-size="8" text-anchor="end" fill="#1a1a1a" stroke="#1a1a1a" stroke-width="0.12">0.50</text>
<text transform="translate(333.30,483.02) scale(1.0000,1.170)" font-size="8" text-anchor="end" fill="#1a1a1a" stroke="#1a1a1a" stroke-width="0.12">0.75</text>
<text transform="translate(333.30,451.20) scale(1.0000,1.170)" font-size="8" text-anchor="end" fill="#1a1a1a" stroke="#1a1a1a" stroke-width="0.12">1</text>
<text transform="translate(346.30,594.20) scale(1.0000,1.170)" font-size="8" text-anchor="middle" fill="#1a1a1a" stroke="#1a1a1a" stroke-width="0.12">0</text>
<text transform="translate(370.50,594.20) scale(1.0000,1.170)" font-size="8" text-anchor="middle" fill="#1a1a1a" stroke="#1a1a1a" stroke-width="0.12">20</text>
<text transform="translate(394.70,594.20) scale(1.0000,1.170)" font-size="8" text-anchor="middle" fill="#1a1a1a" stroke="#1a1a1a" stroke-width="0.12">40</text>
<text transform="translate(418.90,594.20) scale(1.0000,1.170)" font-size="8" text-anchor="middle" fill="#1a1a1a" stroke="#1a1a1a" stroke-width="0.12">60</text>
<text transform="translate(443.10,594.20) scale(1.0000,1.170)" font-size="8" text-anchor="middle" fill="#1a1a1a" stroke="#1a1a1a" stroke-width="0.12">80</text>
<text transform="translate(467.30,594.20) scale(1.0000,1.170)" font-size="8" text-anchor="middle" fill="#1a1a1a" stroke="#1a1a1a" stroke-width="0.12">100</text>
<text transform="translate(491.50,594.20) scale(1.0000,1.170)" font-size="8" text-anchor="middle" fill="#1a1a1a" stroke="#1a1a1a" stroke-width="0.12">120</text>
<text transform="translate(311.80,502.70) rotate(-90) scale(1.0000,1.100)" font-size="7.3" text-anchor="middle" fill="#1a1a1a" stroke="#1a1a1a" stroke-width="0.12">Leukemic transformation</text>
<path d="M340.3,444.5 L340.3,580.2 L499,580.2" fill="none" stroke="#111" stroke-width="1.3"/><line x1="336.5" y1="575.30" x2="340.3" y2="575.30" stroke="#111" stroke-width="1.3"/><line x1="336.5" y1="543.48" x2="340.3" y2="543.48" stroke="#111" stroke-width="1.3"/><line x1="336.5" y1="511.65" x2="340.3" y2="511.65" stroke="#111" stroke-width="1.3"/><line x1="336.5" y1="479.82" x2="340.3" y2="479.82" stroke="#111" stroke-width="1.3"/><line x1="336.5" y1="448.00" x2="340.3" y2="448.00" stroke="#111" stroke-width="1.3"/><line x1="346.30" y1="580.2" x2="346.30" y2="583.4000000000001" stroke="#111" stroke-width="1.3"/><line x1="370.50" y1="580.2" x2="370.50" y2="583.4000000000001" stroke="#111" stroke-width="1.3"/><line x1="394.70" y1="580.2" x2="394.70" y2="583.4000000000001" stroke="#111" stroke-width="1.3"/><line x1="418.90" y1="580.2" x2="418.90" y2="583.4000000000001" stroke="#111" stroke-width="1.3"/><line x1="443.10" y1="580.2" x2="443.10" y2="583.4000000000001" stroke="#111" stroke-width="1.3"/><line x1="467.30" y1="580.2" x2="467.30" y2="583.4000000000001" stroke="#111" stroke-width="1.3"/><line x1="491.50" y1="580.2" x2="491.50" y2="583.4000000000001" stroke="#111" stroke-width="1.3"/>
<path d="M346.50,575.20 L346.70,575.20 L346.70,571.30 L349.60,571.30 L349.60,568.30 L354.90,568.30 L354.90,560.80 L363.60,560.80 L363.60,556.30 L368.40,556.30 L368.40,551.80 L370.30,551.80 L370.30,546.30 L371.00,546.30 L371.00,543.80 L372.70,543.80 L372.70,540.50 L375.80,540.50 L375.80,536.30 L385.20,536.30 L385.20,531.20 L393.60,531.20 L393.60,524.60 L409.30,524.60 L409.30,513.30 L423.70,513.30" fill="none" stroke="#931a3c" stroke-width="1.7"/>
<line x1="349.00" y1="569.50" x2="349.00" y2="573.10" stroke="#931a3c" stroke-width="1.1"/><line x1="352.00" y1="566.50" x2="352.00" y2="570.10" stroke="#931a3c" stroke-width="1.1"/><line x1="361.20" y1="559.00" x2="361.20" y2="562.60" stroke="#931a3c" stroke-width="1.1"/><line x1="379.00" y1="534.50" x2="379.00" y2="538.10" stroke="#931a3c" stroke-width="1.1"/><line x1="388.70" y1="529.40" x2="388.70" y2="533.00" stroke="#931a3c" stroke-width="1.1"/><line x1="390.90" y1="529.40" x2="390.90" y2="533.00" stroke="#931a3c" stroke-width="1.1"/><line x1="395.80" y1="522.80" x2="395.80" y2="526.40" stroke="#931a3c" stroke-width="1.1"/><line x1="405.20" y1="522.80" x2="405.20" y2="526.40" stroke="#931a3c" stroke-width="1.1"/><line x1="416.40" y1="511.50" x2="416.40" y2="515.10" stroke="#931a3c" stroke-width="1.1"/><line x1="423.50" y1="511.50" x2="423.50" y2="515.10" stroke="#931a3c" stroke-width="1.1"/>
<path d="M346.50,574.90 L351.50,574.90 L351.50,573.90 L356.00,573.90 L356.00,573.30 L360.20,573.30 L360.20,572.80 L365.00,572.80 L365.00,572.30 L368.80,572.30 L368.80,571.30 L370.50,571.30 L370.50,570.60 L372.20,570.60 L372.20,569.80 L374.00,569.80 L374.00,569.10 L375.60,569.10 L375.60,568.50 L388.00,568.50 L388.00,567.50 L408.80,567.50 L408.80,565.30 L411.50,565.30 L411.50,564.20 L490.70,564.20" fill="none" stroke="#283f69" stroke-width="1.7"/>
<line x1="348.00" y1="573.10" x2="348.00" y2="576.70" stroke="#283f69" stroke-width="1.1"/><line x1="354.00" y1="572.10" x2="354.00" y2="575.70" stroke="#283f69" stroke-width="1.1"/><line x1="357.50" y1="571.50" x2="357.50" y2="575.10" stroke="#283f69" stroke-width="1.1"/><line x1="361.20" y1="571.00" x2="361.20" y2="574.60" stroke="#283f69" stroke-width="1.1"/><line x1="363.00" y1="571.00" x2="363.00" y2="574.60" stroke="#283f69" stroke-width="1.1"/><line x1="366.00" y1="570.50" x2="366.00" y2="574.10" stroke="#283f69" stroke-width="1.1"/><line x1="388.20" y1="565.70" x2="388.20" y2="569.30" stroke="#283f69" stroke-width="1.1"/><line x1="390.30" y1="565.70" x2="390.30" y2="569.30" stroke="#283f69" stroke-width="1.1"/><line x1="393.00" y1="565.70" x2="393.00" y2="569.30" stroke="#283f69" stroke-width="1.1"/><line x1="402.30" y1="565.70" x2="402.30" y2="569.30" stroke="#283f69" stroke-width="1.1"/><line x1="403.40" y1="565.70" x2="403.40" y2="569.30" stroke="#283f69" stroke-width="1.1"/><line x1="406.00" y1="565.70" x2="406.00" y2="569.30" stroke="#283f69" stroke-width="1.1"/><line x1="412.60" y1="562.40" x2="412.60" y2="566.00" stroke="#283f69" stroke-width="1.1"/><line x1="414.80" y1="562.40" x2="414.80" y2="566.00" stroke="#283f69" stroke-width="1.1"/><line x1="417.50" y1="562.40" x2="417.50" y2="566.00" stroke="#283f69" stroke-width="1.1"/><line x1="420.80" y1="562.40" x2="420.80" y2="566.00" stroke="#283f69" stroke-width="1.1"/><line x1="423.00" y1="562.40" x2="423.00" y2="566.00" stroke="#283f69" stroke-width="1.1"/><line x1="437.30" y1="562.40" x2="437.30" y2="566.00" stroke="#283f69" stroke-width="1.1"/><line x1="455.20" y1="562.40" x2="455.20" y2="566.00" stroke="#283f69" stroke-width="1.1"/><line x1="467.00" y1="562.40" x2="467.00" y2="566.00" stroke="#283f69" stroke-width="1.1"/><line x1="472.00" y1="562.40" x2="472.00" y2="566.00" stroke="#283f69" stroke-width="1.1"/><line x1="482.00" y1="562.40" x2="482.00" y2="566.00" stroke="#283f69" stroke-width="1.1"/><line x1="484.50" y1="562.40" x2="484.50" y2="566.00" stroke="#283f69" stroke-width="1.1"/><line x1="490.70" y1="562.40" x2="490.70" y2="566.00" stroke="#283f69" stroke-width="1.1"/>
<text transform="translate(433.00,476.80) scale(1.0067,1.000)" font-size="9" fill="#1a1a1a" stroke="#1a1a1a" stroke-width="0.12"><tspan font-style="italic">P</tspan>&lt;0.001</text>
<text transform="translate(435.30,516.50) scale(1.0564,1.000)" font-size="9" fill="#931a3c" stroke="#931a3c" stroke-width="0.12">IMP</text>
<text transform="translate(433.00,555.50) scale(1.0205,1.000)" font-size="9" fill="#283f69" stroke="#283f69" stroke-width="0.12">EMK</text>
<text transform="translate(408.75,607.10) scale(0.9913,1.150)" font-size="7" fill="#1a1a1a" stroke="#1a1a1a" stroke-width="0.12">Months</text>
<text transform="translate(302.50,606.80) scale(0.9846,1.070)" font-size="8" font-weight="bold" stroke="#1a1a1a" stroke-width="0.22" fill="#1a1a1a">No. at Risk</text>
<text transform="translate(302.50,620.60) scale(0.9117,1.000)" font-size="8.8" fill="#1a1a1a" stroke="#1a1a1a" stroke-width="0.12">EMK</text>
<text transform="translate(302.70,634.20) scale(0.8940,1.000)" font-size="8.8" fill="#1a1a1a" stroke="#1a1a1a" stroke-width="0.12">IMP</text>
<text transform="translate(346.30,620.60) scale(0.8800,1.000)" font-size="8.8" text-anchor="middle" fill="#1a1a1a" stroke="#1a1a1a" stroke-width="0.12">70</text>
<text transform="translate(370.50,620.60) scale(0.8800,1.000)" font-size="8.8" text-anchor="middle" fill="#1a1a1a" stroke="#1a1a1a" stroke-width="0.12">31</text>
<text transform="translate(394.70,620.60) scale(0.8800,1.000)" font-size="8.8" text-anchor="middle" fill="#1a1a1a" stroke="#1a1a1a" stroke-width="0.12">25</text>
<text transform="translate(418.90,620.60) scale(0.8800,1.000)" font-size="8.8" text-anchor="middle" fill="#1a1a1a" stroke="#1a1a1a" stroke-width="0.12">13</text>
<text transform="translate(443.10,620.60) scale(0.8800,1.000)" font-size="8.8" text-anchor="middle" fill="#1a1a1a" stroke="#1a1a1a" stroke-width="0.12">7</text>
<text transform="translate(467.30,620.60) scale(0.8800,1.000)" font-size="8.8" text-anchor="middle" fill="#1a1a1a" stroke="#1a1a1a" stroke-width="0.12">5</text>
<text transform="translate(346.30,634.20) scale(0.8800,1.000)" font-size="8.8" text-anchor="middle" fill="#1a1a1a" stroke="#1a1a1a" stroke-width="0.12">37</text>
<text transform="translate(370.50,634.20) scale(0.8800,1.000)" font-size="8.8" text-anchor="middle" fill="#1a1a1a" stroke="#1a1a1a" stroke-width="0.12">14</text>
<text transform="translate(394.70,634.20) scale(0.8800,1.000)" font-size="8.8" text-anchor="middle" fill="#1a1a1a" stroke="#1a1a1a" stroke-width="0.12">5</text>
<text transform="translate(418.90,634.20) scale(0.8800,1.000)" font-size="8.8" text-anchor="middle" fill="#1a1a1a" stroke="#1a1a1a" stroke-width="0.12">1</text>
<rect x="0" y="0" width="520" height="1.1" fill="#111"/><rect x="0" y="0" width="1.2" height="644" fill="#111"/><rect x="518.9" y="0" width="1.1" height="644" fill="#111"/><rect x="0" y="642.4" width="520" height="1.6" fill="#111"/>
</svg>
</body></html>
